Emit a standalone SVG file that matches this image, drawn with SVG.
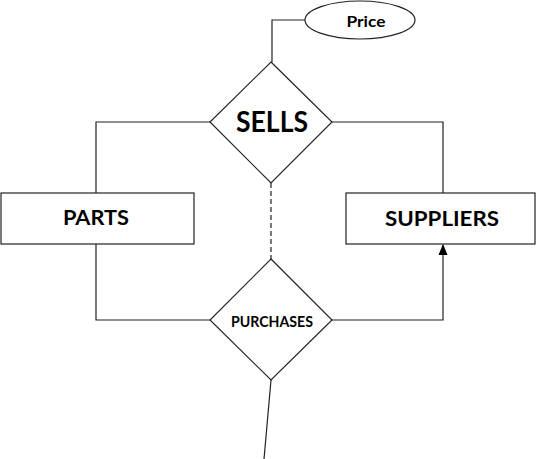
<svg xmlns="http://www.w3.org/2000/svg" width="540" height="459" viewBox="0 0 540 459">
<style>
.s{fill:#fff;stroke:#222;stroke-width:1.2}
.c{fill:none;stroke:#222;stroke-width:1.2}
text{font-family:Lato,"Open Sans","Liberation Sans",sans-serif;font-weight:bold;fill:#000;text-anchor:middle}
</style>
<defs>
<marker id="ah" markerWidth="11" markerHeight="10" refX="10" refY="5" orient="auto" markerUnits="userSpaceOnUse" viewBox="0 0 11 10">
<path d="M0,0.5 L11,5 L0,9.5 Z" fill="#000"/>
</marker>
</defs>
<g id="connectors">
<polyline class="c" points="305,20 272,20 272,62"/>
<polyline class="c" points="210,122 96,122 96,193"/>
<polyline class="c" points="332,122 443,122 443,193"/>
<line class="c" x1="271" y1="183" x2="271" y2="259" stroke-dasharray="5,3"/>
<polyline class="c" points="96,244 96,320 210,320"/>
<polyline class="c" points="332,320 443,320 443,245" marker-end="url(#ah)"/>
<line class="c" x1="271" y1="380" x2="264" y2="459"/>
</g>
<g id="price">
<ellipse class="s" cx="360" cy="20" rx="55" ry="19"/>
<text x="366" y="27" font-size="15" textLength="39" lengthAdjust="spacingAndGlyphs">Price</text>
</g>
<g id="sells">
<polygon class="s" points="271,62 332,122 271,183 210,122"/>
<text x="272" y="132" font-size="28" textLength="72" lengthAdjust="spacingAndGlyphs">SELLS</text>
</g>
<g id="parts">
<rect class="s" x="1" y="193" width="193" height="51"/>
<text x="96" y="225" font-size="21" textLength="66" lengthAdjust="spacingAndGlyphs">PARTS</text>
</g>
<g id="suppliers">
<rect class="s" x="346" y="193" width="189" height="51"/>
<text x="442" y="226" font-size="21" textLength="114" lengthAdjust="spacingAndGlyphs">SUPPLIERS</text>
</g>
<g id="purchases">
<polygon class="s" points="271,259 332,320 271,380 210,320"/>
<text x="272" y="327" font-size="15" textLength="82" lengthAdjust="spacingAndGlyphs">PURCHASES</text>
</g>
</svg>
